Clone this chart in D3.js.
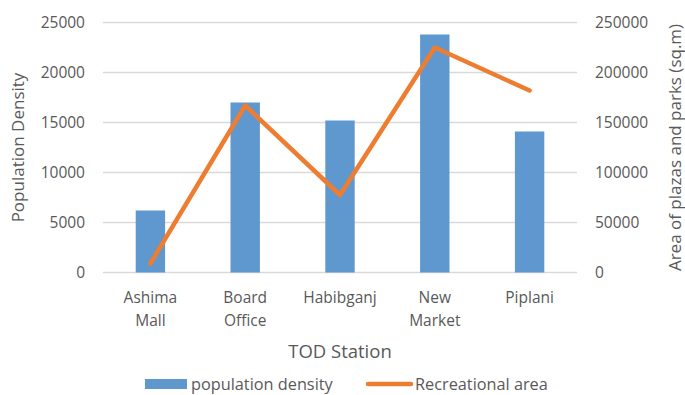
<!DOCTYPE html>
<html><head><meta charset="utf-8">
<script src="https://cdn.jsdelivr.net/npm/d3@7"></script>
<style>body{margin:0;background:#fff}svg{display:block}text{font-family:"Open Sans","Noto Sans",sans-serif;fill:#595959}</style>
</head><body><svg id="c" width="685" height="395"></svg>
<script>
const categories = [["Ashima","Mall"],["Board","Office"],["Habibganj"],["New","Market"],["Piplani"]];
const populationDensity = [6200, 17000, 15200, 23800, 14100];
const recreationalArea = [9000, 167000, 77500, 225000, 182000];
const leftTicks = [0,5000,10000,15000,20000,25000];
const rightTicks = [0,50000,100000,150000,200000,250000];

const svg = d3.select("#c");
const L=103, R=577, T=22.5, B=272.5;
const names = categories.map(c=>c.join(" "));
const x = d3.scaleBand().domain(names).range([L,R]).paddingInner(0.69).paddingOuter(0.345);
const xc = d3.scalePoint().domain(names).range([L,R]).padding(0.5);
const yL = d3.scaleLinear().domain([0,25000]).range([B,T]);
const yR = d3.scaleLinear().domain([0,250000]).range([B,T]);

// gridlines
svg.append("g").selectAll("line").data(leftTicks).join("line")
 .attr("x1",L).attr("x2",R).attr("y1",d=>yL(d)).attr("y2",d=>yL(d))
 .attr("stroke","#d9d9d9").attr("stroke-width",1.3);

// bars
svg.append("g").selectAll("rect").data(populationDensity).join("rect")
 .attr("x",(d,i)=>x(names[i])).attr("width",x.bandwidth())
 .attr("y",d=>yL(d)).attr("height",d=>B-yL(d)).attr("fill","#5f97cf");

// line
svg.append("path").datum(recreationalArea)
 .attr("d",d3.line().x((d,i)=>xc(names[i])).y(d=>yR(d)))
 .attr("fill","none").attr("stroke","#ed7d31").attr("stroke-width",4.5)
 .attr("stroke-linejoin","round").attr("stroke-linecap","round");

const fs = 15.5;
// left ticks
svg.append("g").selectAll("text").data(leftTicks).join("text")
 .attr("x",85).attr("y",d=>yL(d)).attr("dy","0.35em").attr("text-anchor","end")
 .attr("font-size",fs).text(d=>d);
// right ticks
svg.append("g").selectAll("text").data(rightTicks).join("text")
 .attr("x",595).attr("y",d=>yR(d)).attr("dy","0.35em").attr("text-anchor","start")
 .attr("font-size",fs).text(d=>d);
// category labels
const cg = svg.append("g").selectAll("text").data(categories).join("text")
 .attr("text-anchor","middle").attr("font-size",fs);
cg.each(function(c,i){
  const t=d3.select(this);
  c.forEach((s,j)=>t.append("tspan").attr("x",xc(names[i])).attr("y",298+j*23).attr("dy","0.35em").text(s));
});
// axis titles
svg.append("text").attr("x",340).attr("y",352).attr("dy","0.35em").attr("text-anchor","middle")
 .attr("font-size",18.5).text("TOD Station");
svg.append("text").attr("transform","translate(18,147.5) rotate(-90)").attr("dy","0.35em")
 .attr("text-anchor","middle").attr("font-size",17).text("Population Density");
svg.append("text").attr("transform","translate(675,147.5) rotate(-90)").attr("dy","0.35em")
 .attr("text-anchor","middle").attr("font-size",17).text("Area of plazas and parks (sq.m)");
// legend
const ly = 384;
svg.append("rect").attr("x",145).attr("y",ly-5).attr("width",42).attr("height",10).attr("fill","#5f97cf");
svg.append("text").attr("x",191).attr("y",ly).attr("dy","0.35em").attr("font-size",16.3).text("population density");
svg.append("line").attr("x1",368).attr("x2",411).attr("y1",ly).attr("y2",ly)
 .attr("stroke","#ed7d31").attr("stroke-width",4.5).attr("stroke-linecap","round");
svg.append("text").attr("x",415).attr("y",ly).attr("dy","0.35em").attr("font-size",16.3).text("Recreational area");
</script></body></html>
